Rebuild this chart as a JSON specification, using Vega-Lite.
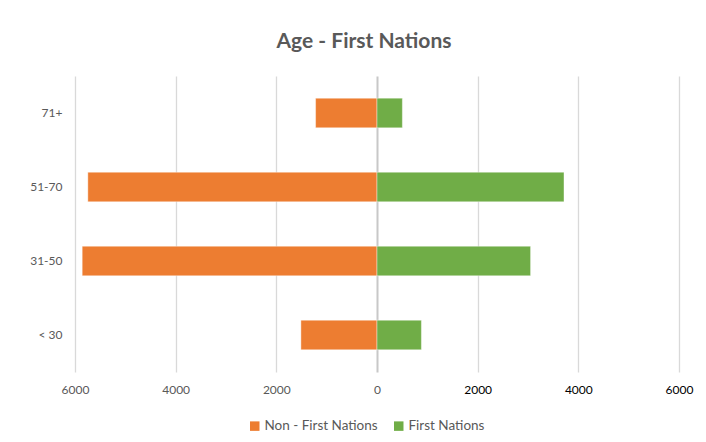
{
  "$schema": "https://vega.github.io/schema/vega-lite/v6.json",
  "autosize": "none",
  "width": 604,
  "height": 296,
  "padding": {"left": 75, "top": 76, "right": 27, "bottom": 70},
  "background": "white",
  "title": {
    "text": "Age - First Nations",
    "font": "Lato",
    "fontSize": 21,
    "fontWeight": "bold",
    "color": "#595959",
    "anchor": "middle",
    "dx": -13,
    "offset": 24
  },
  "data": {
    "values": [
      {"age": "71+", "group": "Non - First Nations", "value": -1220},
      {"age": "71+", "group": "First Nations", "value": 504},
      {"age": "51-70", "group": "Non - First Nations", "value": -5745},
      {"age": "51-70", "group": "First Nations", "value": 3715},
      {"age": "31-50", "group": "Non - First Nations", "value": -5857},
      {"age": "31-50", "group": "First Nations", "value": 3051},
      {"age": "< 30", "group": "Non - First Nations", "value": -1512},
      {"age": "< 30", "group": "First Nations", "value": 882}
    ]
  },
  "mark": {"type": "bar", "stroke": "white", "strokeWidth": 0.8, "strokeOpacity": 0.5},
  "encoding": {
    "y": {
      "field": "age",
      "type": "nominal",
      "sort": ["71+", "51-70", "31-50", "< 30"],
      "scale": {"paddingInner": 0.6, "paddingOuter": 0.3},
      "axis": {
        "title": null,
        "domain": false,
        "ticks": false,
        "labelFont": "Lato",
        "labelFontSize": 12,
        "labelColor": "#595959",
        "labelPadding": 13
      }
    },
    "x": {
      "field": "value",
      "type": "quantitative",
      "stack": null,
      "scale": {"domain": [-6000, 6000], "nice": false, "zero": false},
      "axis": {
        "title": null,
        "values": [-6000, -4000, -2000, 0, 2000, 4000, 6000],
        "labelExpr": "abs(datum.value)",
        "domain": false,
        "ticks": false,
        "grid": true,
        "gridColor": {"condition": {"test": "datum.value === 0", "value": "#c8c8c8"}, "value": "#d9d9d9"},
        "gridWidth": {"condition": {"test": "datum.value === 0", "value": 2}, "value": 1.3},
        "labelFont": "Lato",
        "labelFontSize": 12,
        "labelColor": {"condition": {"test": "datum.value > 0", "value": "#000000"}, "value": "#595959"},
        "labelPadding": 12,
        "labelFlush": false
      }
    },
    "color": {
      "field": "group",
      "type": "nominal",
      "scale": {"domain": ["Non - First Nations", "First Nations"], "range": ["#ED7D31", "#70AD47"]},
      "legend": {
        "title": null,
        "orient": "none",
        "legendX": 173,
        "legendY": 343,
        "direction": "horizontal",
        "symbolType": "square",
        "symbolSize": 90,
        "symbolStrokeWidth": 0,
        "labelFont": "Lato",
        "labelFontSize": 13.5,
        "labelColor": "#595959",
        "labelOffset": 3,
        "columnPadding": 14
      }
    }
  },
  "config": {"view": {"stroke": null}}
}
